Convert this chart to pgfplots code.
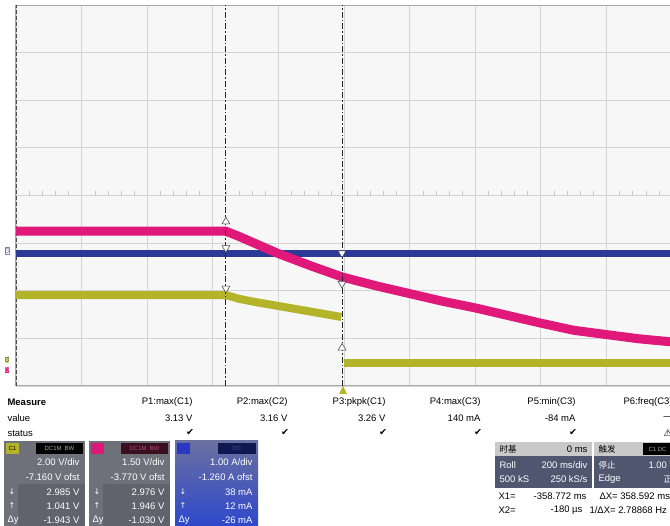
\documentclass[border=0pt]{standalone}
\usepackage{pgfplots}
\pgfplotsset{compat=1.18}
\usepackage{fontspec}
\setmainfont{Liberation Sans}
\newfontfamily\cjk{Noto Sans CJK SC}
\newfontfamily\sym{DejaVu Sans}
\definecolor{mag}{HTML}{E0187A}
\definecolor{blu}{HTML}{2B3A96}
\definecolor{yel}{HTML}{B4B42A}
\definecolor{gridc}{HTML}{D4D4D4}
\definecolor{boxg}{HTML}{6E717A}
\definecolor{boxd}{HTML}{60636C}
\definecolor{tbd}{HTML}{4E5670}
\definecolor{hdr}{HTML}{C9C9C9}
\definecolor{maroon}{HTML}{3A1020}
\definecolor{c3top}{HTML}{6A70A0}
\definecolor{c3bot}{HTML}{2E48CC}
\definecolor{c3tag}{HTML}{2838C0}
\definecolor{navy}{HTML}{101850}
\begin{document}
\begin{tikzpicture}
\path[use as bounding box, fill=white] (0,0) rectangle (670pt,-526pt);
\begin{axis}[at={(16pt,-386pt)}, anchor=south west, scale only axis,
  width=656pt, height=381pt, xmin=0, xmax=10, ymin=-4, ymax=4,
  xtick={0,...,10}, ytick={-4,...,4}, xticklabels={}, yticklabels={},
  major tick length=0pt, grid=major, grid style={gridc, line width=0.9pt},
  axis line style={gridc!80!black, line width=1pt},
  axis background/.style={fill=white!97!black}]
% center minor ticks
\addplot[only marks, mark=|, mark size=2.5pt, gray!45] coordinates {
(0.2,0.05)(0.4,0.05)(0.6,0.05)(0.8,0.05)(1.2,0.05)(1.4,0.05)(1.6,0.05)(1.8,0.05)
(2.2,0.05)(2.4,0.05)(2.6,0.05)(2.8,0.05)(3.2,0.05)(3.4,0.05)(3.6,0.05)(3.8,0.05)
(4.2,0.05)(4.4,0.05)(4.6,0.05)(4.8,0.05)(5.2,0.05)(5.4,0.05)(5.6,0.05)(5.8,0.05)
(6.2,0.05)(6.4,0.05)(6.6,0.05)(6.8,0.05)(7.2,0.05)(7.4,0.05)(7.6,0.05)(7.8,0.05)
(8.2,0.05)(8.4,0.05)(8.6,0.05)(8.8,0.05)(9.2,0.05)(9.4,0.05)(9.6,0.05)(9.8,0.05)};
% left edge
\addplot[gray!60!black, line width=1.6pt, dash pattern=on 4pt off 2pt] coordinates {(0,-4) (0,4)};
% C3 blue
\addplot[blu, line width=7pt] coordinates {(0,-1.21) (10.2,-1.21)};
% C1 yellow
\addplot[yel, line width=8pt, line join=round] coordinates {
(0,-2.09) (3.2,-2.09) (3.4,-2.17) (3.7,-2.25) (4.0,-2.32) (4.5,-2.44) (4.96,-2.55)};
\addplot[yel, line width=8pt] coordinates {(5.0,-3.52) (10.2,-3.52)};
% C2 magenta
\addplot[mag, line width=9pt, line join=round] coordinates {
(0,-0.75) (3.2,-0.75) (3.4,-0.86) (3.6,-0.98) (4.0,-1.22) (4.5,-1.48) (4.97,-1.71)
(5.5,-1.90) (6.0,-2.06) (6.5,-2.22) (7.0,-2.36) (7.5,-2.52) (8.0,-2.68) (8.5,-2.83)
(9.0,-2.92) (9.5,-3.01) (10.2,-3.10)};
% cursors
\addplot[gray!30!black, line width=1pt, dash pattern=on 6pt off 2pt on 1.5pt off 2pt] coordinates {(3.2,-4) (3.2,4)};
\addplot[gray!30!black, line width=1pt, dash pattern=on 6pt off 2pt on 1.5pt off 2pt] coordinates {(4.97,-4) (4.97,4)};
% cursor markers
\addplot[only marks, mark=triangle*, mark size=4.5pt, mark options={fill=white, draw=gray!60!black, line width=0.6pt}] coordinates {(3.2,-0.55) (4.97,-3.2)};
\addplot[only marks, mark=triangle*, mark size=4.5pt, mark options={rotate=180, fill=white, draw=gray!60!black, line width=0.6pt}] coordinates {(3.2,-1.1) (3.2,-1.95) (4.97,-1.21) (4.97,-1.85)};
\end{axis}
\begin{scope}[x=1pt, y=-1pt, font=\fontsize{9.5}{10}\selectfont]
% left channel tags
\node[rotate=90, font=\fontsize{4.5}{5}\selectfont, text=blu, draw=blu!60, inner sep=0.6pt] at (7,251) {C3};
\node[rotate=90, font=\fontsize{4.5}{5}\selectfont, text=black, fill=yel!60, inner sep=0.6pt] at (7,360) {C1};
\node[rotate=90, font=\fontsize{4.5}{5}\selectfont, text=white, fill=mag, inner sep=0.6pt] at (7,370) {C2};
% trigger marker
\fill[yel] (339,394) -- (347,394) -- (343,386) -- cycle;
% measurement table
\node[anchor=west, font=\fontsize{9.5}{10}\selectfont\bfseries] at (4,402) {Measure};
\node[anchor=west] at (4,418) {value};
\node[anchor=west] at (4,433) {status};
\node[anchor=east] at (196,402) {P1:max(C1)};
\node[anchor=east] at (291,402) {P2:max(C2)};
\node[anchor=east] at (389,402) {P3:pkpk(C1)};
\node[anchor=east] at (484,402) {P4:max(C3)};
\node[anchor=east] at (579,402) {P5:min(C3)};
\node[anchor=west] at (620,402) {P6:freq(C3)};
\node[anchor=east] at (196,418) {3.13 V};
\node[anchor=east] at (291,418) {3.16 V};
\node[anchor=east] at (389,418) {3.26 V};
\node[anchor=east] at (484,418) {140 mA};
\node[anchor=east] at (579,418) {-84 mA};
\node[anchor=west] at (660,418) {---};
\node[font=\sym\fontsize{9.5}{10}\selectfont] at (190,433) {✔};
\node[font=\sym\fontsize{9.5}{10}\selectfont] at (285,433) {✔};
\node[font=\sym\fontsize{9.5}{10}\selectfont] at (383,433) {✔};
\node[font=\sym\fontsize{9.5}{10}\selectfont] at (478,433) {✔};
\node[font=\sym\fontsize{9.5}{10}\selectfont] at (573,433) {✔};
\node[font=\sym\fontsize{9.5}{10}\selectfont] at (668,433) {⚠};
% C1 box
\fill[boxg] (4,441) rectangle (85,526);
\fill[boxd] (18,484) rectangle (85,526);
\fill[yel] (6,443) rectangle (19,454);
\node[font=\fontsize{6}{6}\selectfont, text=black] at (12.5,448.5) {C1};
\fill[black] (36,443) rectangle (83,454);
\node[font=\fontsize{6}{6}\selectfont, text=gray!70] at (59.5,448.5) {DC1M\enspace BW};
\begin{scope}[text=white]
\node[anchor=east] at (83,462) {2.00 V/div};
\node[anchor=east] at (83,477) {-7.160 V ofst};
\node[anchor=east] at (83,492) {2.985 V};
\node[anchor=east] at (83,506) {1.041 V};
\node[anchor=east] at (83,520) {-1.943 V};
\node[anchor=west, font=\sym\fontsize{8}{9}\selectfont] at (5,492) {↓};
\node[anchor=west, font=\sym\fontsize{8}{9}\selectfont] at (5,506) {↑};
\node[anchor=west] at (4,520) {Δy};
\end{scope}
% C2 box
\fill[boxg] (89,441) rectangle (170,526);
\fill[boxd] (103,484) rectangle (170,526);
\fill[mag] (91,443) rectangle (104,454);
\fill[maroon] (121,443) rectangle (168,454);
\node[font=\fontsize{6}{6}\selectfont, text=mag!50!gray] at (144.5,448.5) {DC1M\enspace BW};
\begin{scope}[text=white]
\node[anchor=east] at (168,462) {1.50 V/div};
\node[anchor=east] at (168,477) {-3.770 V ofst};
\node[anchor=east] at (168,492) {2.976 V};
\node[anchor=east] at (168,506) {1.946 V};
\node[anchor=east] at (168,520) {-1.030 V};
\node[anchor=west, font=\sym\fontsize{8}{9}\selectfont] at (90,492) {↓};
\node[anchor=west, font=\sym\fontsize{8}{9}\selectfont] at (90,506) {↑};
\node[anchor=west] at (89,520) {Δy};
\end{scope}
% C3 box
\shade[top color=c3top, bottom color=c3bot] (175,441) rectangle (258,526);
\fill[c3tag] (177,443) rectangle (190,454);
\fill[navy] (218,443) rectangle (256,454);
\node[font=\fontsize{6}{6}\selectfont, text=blue!40!gray] at (237,448.5) {DC};
\begin{scope}[text=white]
\node[anchor=east] at (256,462) {1.00 A/div};
\node[anchor=east] at (256,477) {-1.260 A ofst};
\node[anchor=east] at (256,492) {38 mA};
\node[anchor=east] at (256,506) {12 mA};
\node[anchor=east] at (256,520) {-26 mA};
\node[anchor=west, font=\sym\fontsize{8}{9}\selectfont] at (176,492) {↓};
\node[anchor=west, font=\sym\fontsize{8}{9}\selectfont] at (176,506) {↑};
\node[anchor=west] at (175,520) {Δy};
\end{scope}
% timebase box
\fill[hdr] (495,442) rectangle (592,456);
\fill[tbd] (495,456) rectangle (592,488);
\node[anchor=west, font=\cjk\fontsize{8.5}{9}\selectfont] at (496,449) {时基};
\node[anchor=east] at (591,449) {0 ms};
\node[anchor=west, text=white] at (496,465) {Roll};
\node[anchor=east, text=white] at (591,465) {200 ms/div};
\node[anchor=west, text=white] at (496,479) {500 kS};
\node[anchor=east, text=white] at (591,479) {250 kS/s};
% trigger box
\fill[hdr] (594,442) rectangle (672,456);
\fill[tbd] (594,456) rectangle (672,488);
\fill[black] (643,443) rectangle (672,455);
\node[anchor=west, font=\cjk\fontsize{8.5}{9}\selectfont] at (595,449) {触发};
\node[anchor=west, font=\fontsize{6}{6}\selectfont, text=gray!70] at (645,449) {C1 DC};
\node[anchor=west, font=\cjk\fontsize{8.5}{9}\selectfont, text=white] at (595,465) {停止};
\node[anchor=west, text=white] at (645,465) {1.00 V};
\node[anchor=west, text=white] at (595,479) {Edge};
\node[anchor=west, font=\cjk\fontsize{8.5}{9}\selectfont, text=white] at (660,479) {正};
% cursor readouts
\node[anchor=west] at (495,496) {X1=};
\node[anchor=east] at (590,496) {-358.772 ms};
\node[anchor=west] at (596,496) {ΔX= 358.592 ms};
\node[anchor=west] at (495,510) {X2=};
\node[anchor=east] at (586,510) {-180 µs};
\node[anchor=west] at (586,510) {1/ΔX= 2.78868 Hz};
\end{scope}
\end{tikzpicture}
\end{document}
